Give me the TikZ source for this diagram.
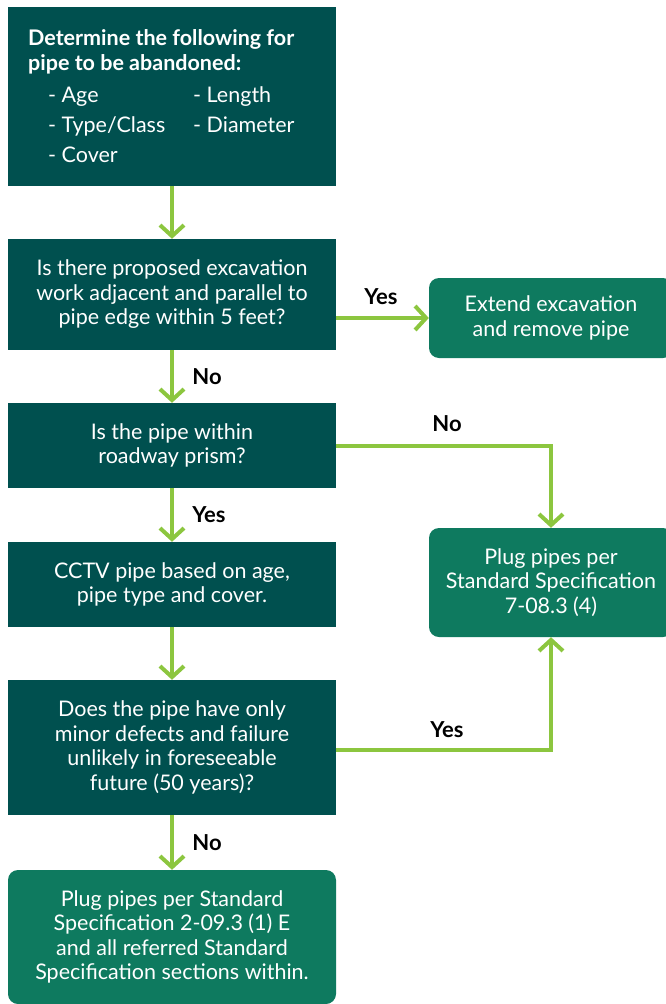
\documentclass[tikz,border=0pt]{standalone}
\usepackage{fontspec}
\setmainfont{Lato}
\usetikzlibrary{arrows.meta}
\definecolor{darkteal}{HTML}{00504F}
\definecolor{midgreen}{HTML}{0E7A5F}
\definecolor{lime}{HTML}{8CC63F}
\tikzset{
  box/.style={fill=darkteal, draw=none, minimum width=328pt, text=white, align=center,
    font=\fontsize{21.5pt}{24.5pt}\selectfont, inner sep=0pt},
  rbox/.style={fill=midgreen, draw=none, rounded corners=10pt, text=white, align=center,
    font=\fontsize{21.5pt}{24.5pt}\selectfont, inner sep=0pt},
  txt/.style={text=white, inner sep=0pt, font=\fontsize{21.5pt}{24.5pt}\selectfont},
  flow/.style={draw=lime, line width=4pt, -{Straight Barb[length=11pt,width=24pt,line width=4pt]}},
  lbl/.style={font=\fontsize{22pt}{24pt}\selectfont\bfseries, text=black, inner sep=0pt}
}
\begin{document}
\begin{tikzpicture}[x=1pt,y=-1pt]
\useasboundingbox (0,0) rectangle (666,1004);
\clip (0,0) rectangle (666,1004);
% boxes
\node[box, minimum height=179pt] (b1) at (172,96.5) {};
\node[txt, anchor=base west] (t1) at (28,45) {\bfseries Determine the following for};
\node[txt, anchor=base west] (t2) at (28,70) {\bfseries pipe to be abandoned:};
\node[txt, anchor=base west] (t3) at (48,102) {- Age};
\node[txt, anchor=base west] (t4) at (193,102) {- Length};
\node[txt, anchor=base west] (t5) at (48,132) {- Type/Class};
\node[txt, anchor=base west] (t6) at (193,132) {- Diameter};
\node[txt, anchor=base west] (t7) at (48,162) {- Cover};

\node[box, minimum height=111pt] (b2) at (172,294.5) {Is there proposed excavation\\work adjacent and parallel to\\pipe edge within 5 feet?};
\node[rbox, minimum width=244pt, minimum height=80pt] (ext) at (551,318) {Extend excavation\\and remove pipe};
\node[box, minimum height=85pt] (b3) at (172,445.5) {Is the pipe within\\roadway prism?};
\node[box, minimum height=85pt] (b4) at (172,584.5) {CCTV pipe based on age,\\pipe type and cover.};
\node[box, minimum height=135pt] (b5) at (172,747.5) {Does the pipe have only\\minor defects and failure\\unlikely in foreseeable\\future (50 years)?};
\node[rbox, minimum width=244pt, minimum height=109pt] (plug) at (551,582.5) {Plug pipes per\\Standard Specification\\7-08.3 (4)};
\node[rbox, minimum width=328pt, minimum height=134pt] (b6) at (172,937) {Plug pipes per Standard\\Specification 2-09.3 (1) E\\and all referred Standard\\Specification sections within.};

% connectors
\draw[flow] (b1) -- (b2);
\draw[flow] (b2.east |- ext.west) -- (ext.west);
\draw[flow] (b2) -- (b3);
\draw[flow] (b3.east) -| (plug.north);
\draw[flow] (b3) -- (b4);
\draw[flow] (b4) -- (b5);
\draw[flow] ([yshift=-2.5pt]b5.east) -| (plug.south);
\draw[flow] (b5) -- (b6);

% labels
\node[lbl] (l1) at (381,297) {Yes};
\node[lbl] (l2) at (207,377) {No};
\node[lbl] (l3) at (447,424) {No};
\node[lbl] (l4) at (209,515) {Yes};
\node[lbl] (l5) at (447,730) {Yes};
\node[lbl] (l6) at (207,843) {No};
\end{tikzpicture}
\end{document}
